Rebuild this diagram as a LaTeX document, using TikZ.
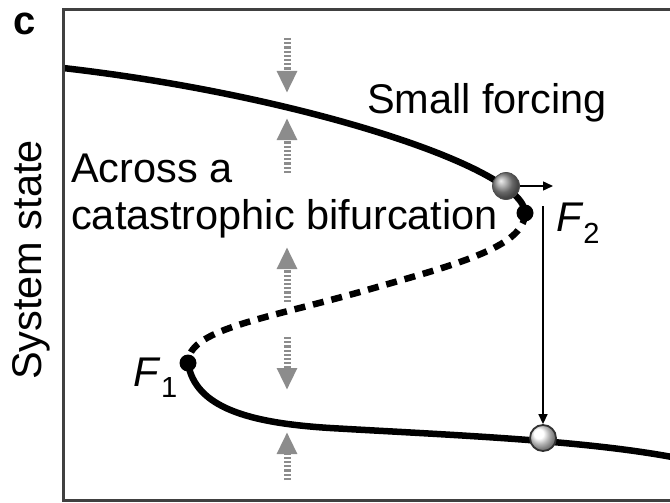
\documentclass[tikz,border=0pt]{standalone}
\usepackage{amsmath}
\usepackage{fontspec}
\setmainfont{Liberation Sans}
\usetikzlibrary{positioning,arrows.meta,backgrounds,shadings}
\definecolor{pullgray}{HTML}{8C8C8C}
\definecolor{framegray}{HTML}{404040}

\begin{document}
\begin{tikzpicture}[x=1pt, y=-1pt,
  lbl/.style={font=\fontsize{41.5}{47}\selectfont, inner sep=0pt},
  branch/.style={line width=6.5pt, black},
  unstable/.style={branch, dash pattern=on 11pt off 8pt},
  fold/.style={circle, fill=black, minimum size=17pt, inner sep=0pt},
  ball/.style={circle, shading=ball, minimum size=27pt, inner sep=0pt},
  pull/.style={-{Triangle[length=22pt, width=19pt]}, pullgray, line width=7pt, dash pattern=on 2.2pt off 2pt},
  arr/.style={-{Triangle[length=10pt, width=9pt]}, line width=1.4pt, black}]
  \useasboundingbox (0,0) rectangle (670,503);
  % frame, open on the right
  \draw[framegray, line width=3pt] (672,10) -- (63,10) -- (63,500) -- (672,500);
  \node[font=\fontsize{40}{40}\selectfont\bfseries, inner sep=0pt] (panel) at (25,24) {c};
  \node[lbl, rotate=90] (ylab) at (31,260) {System state};

  % stable states and fold points
  \coordinate (upstart) at (63,68);
  \coordinate (lowend) at (672,457);
  \node[fold] (f2) at (525,213) {};
  \node[fold] (f1) at (188,363) {};
  \node[ball, ball color=gray!85, draw=black!70, line width=0.8pt] (now) at (506,186) {};
  \node[ball, ball color=white, draw=black!80, line width=1.8pt, minimum size=26pt] (after) at (543,438) {};
  \begin{scope}[on background layer]
    \draw[branch] (upstart) .. controls (300,95) and (525,168) .. (f2.center);
    \draw[unstable] (f2.center) .. controls (525,248) and (450,266) .. (360,292)
      .. controls (260,320) and (188,330) .. (f1.center);
    \draw[branch] (f1.center) .. controls (195,408) and (250,423) .. (330,428)
      .. controls (450,435) and (580,440) .. (lowend);
  \end{scope}

  % attraction arrows
  \foreach \i/\ya/\yb in {1/38/93, 2/173/118, 3/302/247, 4/337/390, 5/480/432}{
    \coordinate (pa\i) at (287,\ya);
    \coordinate (pb\i) at (287,\yb);
    \draw[pull] (pa\i) -- (pb\i);
  }

  % forcing and jump
  \coordinate (push) at (553,186);
  \coordinate (drop) at (543,206);
  \draw[arr] (now.east) -- (push);
  \draw[arr] (drop) -- (after.north);

  \node[lbl] (force) at (487,103) {Small forcing};
  \node[lbl, anchor=north west, align=left] (cross) at (71,154) {Across a\\catastrophic bifurcation};
  \node[lbl, anchor=west] (lf2) at (556,223) {\textit{F}$_{\text{2}}$};
  \node[lbl, anchor=east] (lf1) at (178,378) {\textit{F}$_{\text{1}}$};
\end{tikzpicture}
\end{document}
